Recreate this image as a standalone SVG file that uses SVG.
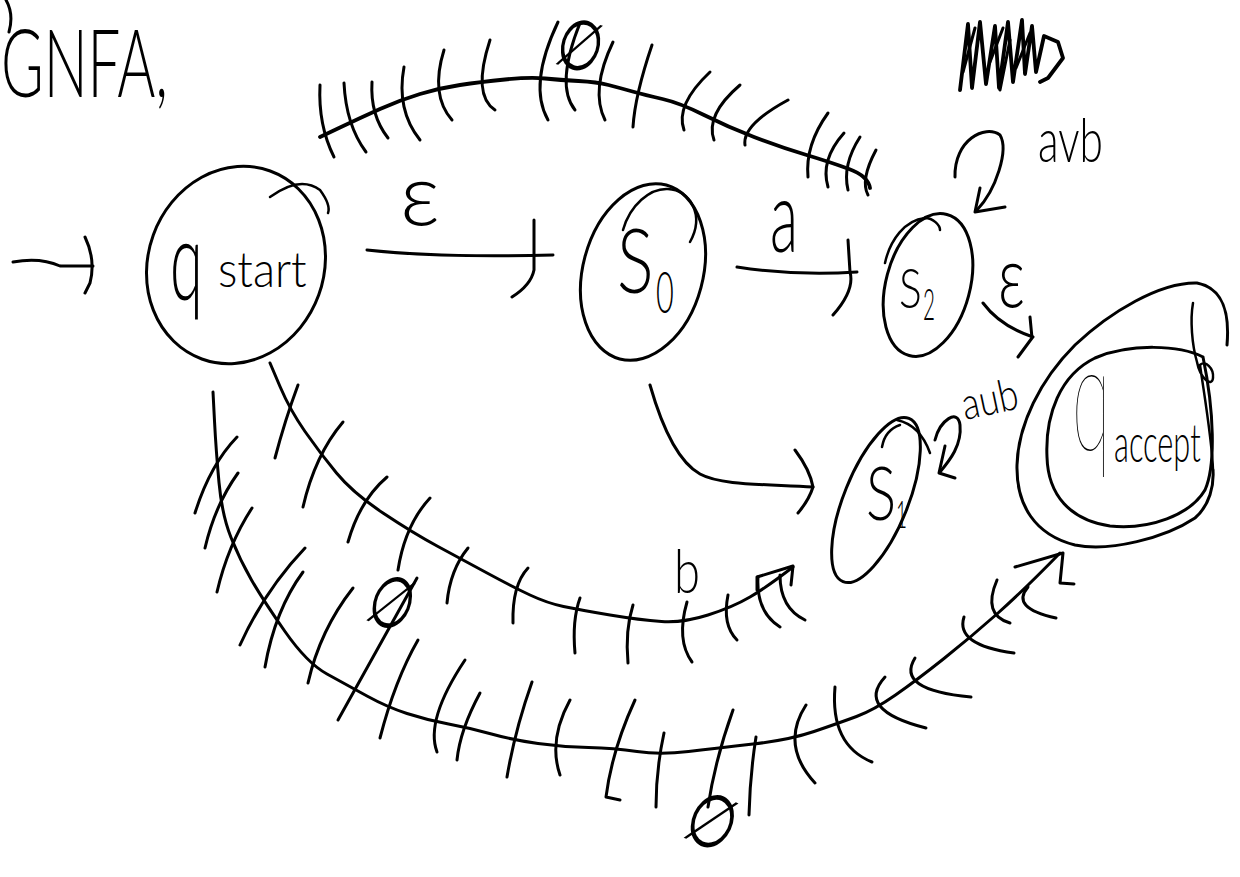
<svg xmlns="http://www.w3.org/2000/svg" width="1240" height="877" viewBox="0 0 1240 877">
<style>
.ln{fill:none;stroke:#000;stroke-width:3;stroke-linecap:round;stroke-linejoin:round}
.th{stroke-width:2.5}
.bd{stroke-width:3.8}
.hw{font-family:Lato,"Liberation Sans",sans-serif;fill:#000}
.w2{font-weight:200}.w3{font-weight:300}
.es{font-family:"DejaVu Sans","Liberation Sans",sans-serif;font-weight:200;fill:#000}
</style>
<rect width="1240" height="877" fill="#fff"/>

<g id="title">
<path class="ln" d="M6,0 Q14,14 9,32"/>
<text class="hw w3" x="1" y="97" font-size="95" textLength="167" lengthAdjust="spacingAndGlyphs">GNFA,</text>
<path class="ln bd" d="M960,90 L968,24 L972,88 L980,22 L986,84 L995,26 L999,88 L1008,22 L1013,82 L1022,20 L1025,74 L1032,26 L1036,72 L1044,36 L1058,42 L1063,58 L1048,78 L1040,82"/>
<path class="ln" d="M963,72 L975,28 M990,62 L1003,28 M1016,68 L1030,33 M1000,90 L1010,40"/>
</g>

<g id="connectors">
<!-- start arrow -->
<path class="ln" d="M13,262 Q40,257 60,266 L93,266"/>
<path class="ln" d="M85,237 Q96,260 90,283 L85,293"/>
<!-- q_start -> s0 epsilon -->
<path class="ln" d="M367,250 Q440,258 553,255"/>
<path class="ln" d="M534,220 L534,270 Q531,285 512,297"/>
<text class="hw w3" x="400" y="225" font-size="86" textLength="40" lengthAdjust="spacingAndGlyphs">ε</text>
<!-- s0 -> s2 a -->
<path class="ln" d="M737,267 Q795,276 857,272"/>
<path class="ln" d="M848,240 L850,272 Q855,290 833,315"/>
<text class="hw w3" x="770" y="252" font-size="100" textLength="28" lengthAdjust="spacingAndGlyphs">a</text>
<!-- s2 -> q_accept epsilon -->
<path class="ln" d="M983,303 Q1000,326 1033,337"/>
<path class="ln" d="M1030,317 L1032,338 L1018,357"/>
<text class="hw w3" x="998" y="307" font-size="86" textLength="27" lengthAdjust="spacingAndGlyphs">ε</text>
<!-- s2 self loop -->
<path class="ln" d="M955,177 C954,140 985,124 1000,135 C1009,150 996,190 977,210"/>
<path class="ln" d="M980,188 L975,212 L1005,207"/>
<text class="hw w3" x="1038" y="162" font-size="62" textLength="65" lengthAdjust="spacingAndGlyphs">avb</text>
<!-- s0 -> s1 -->
<path class="ln" d="M650,385 C660,420 675,460 700,474 C720,485 760,484 813,487"/>
<path class="ln" d="M795,450 Q810,470 813,487 Q809,500 798,513"/>
<!-- s1 self loop -->
<path class="ln" d="M935,440 C940,420 958,408 960,425 C962,445 950,460 940,472"/>
<path class="ln" d="M945,446 L939,473 L955,478"/>
<text class="hw w3" x="965" y="420" font-size="44" textLength="57" lengthAdjust="spacingAndGlyphs" transform="rotate(-12 965 420)">aub</text>

<!-- top crossed-out edge q_start -> s2 -->
<path class="ln bd" d="M320,137 L340,127.5 Q360,118 380,109 Q400,100 420,94 Q440,88 460,85 Q480,82 505,79.5 Q530,77 545,78.5 Q560,80 578.5,81 Q597,82 608.5,85 Q620,88 632.5,91.5 Q645,95 662.5,99 Q680,103 704,115 Q728,127 754,137 Q780,147 805,154.5 Q830,162 849,169 Q868,176 870,188"/>
<g class="ln">
<path d="M320,85 Q318,125 334,157"/>
<path d="M344,83 Q346,125 366,152"/>
<path d="M372,82 Q370,115 388,138"/>
<path d="M404,67 Q396,110 420,140"/>
<path d="M444,50 Q430,95 452,120"/>
<path d="M490,40 Q472,95 495,110"/>
<path d="M558,22 Q528,85 548,120"/>
<path d="M580,23 Q555,85 575,110"/>
<path d="M613,42 Q590,90 605,120"/>
<path d="M652,45 Q635,95 633,127"/>
<path d="M710,72 Q675,105 684,130"/>
<path d="M740,85 Q705,115 714,140"/>
<path d="M788,100 Q742,125 745,145"/>
<path d="M828,113 Q805,145 808,177"/>
<path d="M844,133 Q820,160 828,187"/>
<path d="M860,137 Q842,165 848,190"/>
<path d="M876,150 Q860,180 868,195"/>
</g>
<text class="es" font-size="62" text-anchor="middle" y="23" transform="translate(581,44) rotate(18) scale(0.85,1.15)">∅</text>

<!-- crossed-out edge q_start -> s1 -->
<path class="ln" d="M270,363 L280,386.5 Q290,410 305,431.5 Q320,453 336.5,473 Q353,493 383,513 Q413,533 438,546.5 Q463,560 488,573.5 Q513,587 530,595 Q547,603 563.5,606.5 Q580,610 610,615 Q640,620 661.5,621.5 Q683,623 708,615 Q733,607 750,597 Q767,587 793,567"/>
<path class="ln" d="M757,590 L757,577 L793,566 L791,585"/>
<g class="ln">
<path d="M298,385 Q285,420 275,458"/>
<path d="M343,422 Q315,455 303,507"/>
<path d="M387,477 Q360,500 348,542"/>
<path d="M430,498 Q405,525 398,570"/>
<path d="M468,548 Q450,570 447,603"/>
<path d="M528,568 Q512,585 513,623"/>
<path d="M580,598 Q572,620 575,653"/>
<path d="M633,605 Q625,630 628,663"/>
<path d="M687,602 Q676,640 692,662"/>
<path d="M728,595 Q722,625 737,640"/>
<path d="M758,577 Q756,612 780,627"/>
<path d="M780,575 Q780,608 805,620"/>
</g>
<text class="es" font-size="64" text-anchor="middle" y="24" transform="translate(393,601) rotate(22) scale(0.8,1.15)">∅</text>
<text class="hw w3" x="674" y="593" font-size="62" textLength="26" lengthAdjust="spacingAndGlyphs">b</text>

<!-- crossed-out edge q_start -> q_accept -->
<path class="ln" d="M213,392 L214.5,421 Q216,450 219,482.5 Q222,515 231,537.5 Q240,560 251.5,580 Q263,600 285,631.5 Q307,663 327,674 Q347,685 367,696 Q387,707 407,713.5 Q427,720 448.5,724 Q470,728 491.5,734 Q513,740 538,743.5 Q563,747 588.5,747.5 Q614,748 637,751.5 Q660,755 688.5,751.5 Q717,748 753,744 Q789,740 814,731.5 Q839,723 856.5,716.5 Q874,710 895.5,695 Q917,680 944,658.5 Q971,637 997.5,613.5 Q1024,590 1060,553"/>
<path class="ln" d="M1015,567 L1063,553 L1060,583 L1074,584"/>
<g class="ln">
<path d="M237,437 Q210,465 195,513"/>
<path d="M238,473 Q215,505 205,548"/>
<path d="M252,508 Q228,545 217,592"/>
<path d="M305,548 Q265,590 240,645"/>
<path d="M303,572 Q275,610 265,667"/>
<path d="M353,588 Q320,630 308,683"/>
<path d="M417,578 L338,720"/>
<path d="M418,640 Q395,680 380,738"/>
<path d="M465,660 Q425,720 437,752"/>
<path d="M480,693 Q460,730 457,760"/>
<path d="M532,682 Q515,730 507,777"/>
<path d="M570,700 Q548,740 560,775"/>
<path d="M635,700 Q612,750 606,797 L620,800"/>
<path d="M664,733 Q656,770 656,807"/>
<path d="M733,710 Q715,760 708,807"/>
<path d="M756,737 Q750,775 749,815"/>
<path d="M806,705 Q780,745 815,783"/>
<path d="M835,687 Q830,745 872,762"/>
<path d="M885,677 Q855,710 926,728"/>
<path d="M915,658 Q895,690 971,697"/>
<path d="M964,617 Q955,645 1014,653"/>
<path d="M997,580 Q982,615 1010,623"/>
<path d="M1028,587 Q1010,608 1056,618"/>
</g>
<text class="es" font-size="66" text-anchor="middle" y="24" transform="translate(713,820) rotate(25) scale(0.85,1.15)">∅</text>
</g>

<g id="q_start">
<ellipse class="ln" cx="236" cy="265" rx="88" ry="100" transform="rotate(20 236 265)"/>
<path class="ln th" d="M270,197 Q300,175 320,190 Q331,205 328,213"/>
<text class="hw w3" font-size="110" transform="translate(170,300) scale(0.54,1)">q</text>
<text class="hw w3" font-size="50" transform="translate(218,287) scale(0.91,1)">start</text>
</g>

<g id="s0">
<ellipse class="ln" cx="643" cy="272" rx="60" ry="90" transform="rotate(15 643 272)"/>
<path class="ln th" d="M623,230 C630,205 650,188 668,189 C690,190 705,215 690,242"/>
<text class="hw w3" font-size="90" transform="translate(617,293) scale(0.76,1)">S</text>
<text class="hw w3" font-size="58" transform="translate(656,313) scale(0.53,1)">0</text>
</g>

<g id="s2">
<ellipse class="ln" cx="928" cy="285" rx="42" ry="73" transform="rotate(15 928 285)"/>
<path class="ln th" d="M885,263 C890,240 905,220 925,218 C933,218 940,225 940,230"/>
<text class="hw w3" font-size="56" transform="translate(899,308) scale(0.76,1)">S</text>
<text class="hw w3" font-size="44" transform="translate(923,320) scale(0.47,1)">2</text>
</g>

<g id="s1">
<ellipse class="ln" cx="876" cy="500" rx="32" ry="88" transform="rotate(22 876 500)"/>
<path class="ln th" d="M882,447 Q885,430 900,425 M897,420 Q920,425 930,453"/>
<text class="hw w3" font-size="74" transform="translate(866,520) scale(0.76,1)">S</text>
<text class="hw w3" font-size="38" transform="translate(896,528) scale(0.5,1)">1</text>
</g>

<g id="q_accept">
<path class="ln" d="M1227,345 C1230,310 1222,288 1197,283 C1160,282 1110,312 1075,345 C1040,380 1018,425 1017,465 C1016,505 1035,535 1075,545 C1110,552 1165,538 1195,518 C1210,505 1214,485 1213,470"/>
<path class="ln" d="M1203,357 C1180,345 1130,343 1095,358 C1060,375 1045,415 1047,457 C1048,495 1070,520 1110,526 C1150,530 1190,515 1205,490 C1216,465 1214,410 1203,357"/>
<path class="ln th" d="M1193,303 C1190,320 1192,345 1197,362 C1200,378 1212,388 1213,378 C1214,368 1205,360 1200,365 C1205,400 1212,440 1213,470"/>
<text class="hw w2" font-size="150" transform="translate(1072,450) scale(0.47,1)">q</text>
<text class="hw w3" font-size="54" transform="translate(1114,462) scale(0.57,1)">accept</text>
</g>
</svg>
